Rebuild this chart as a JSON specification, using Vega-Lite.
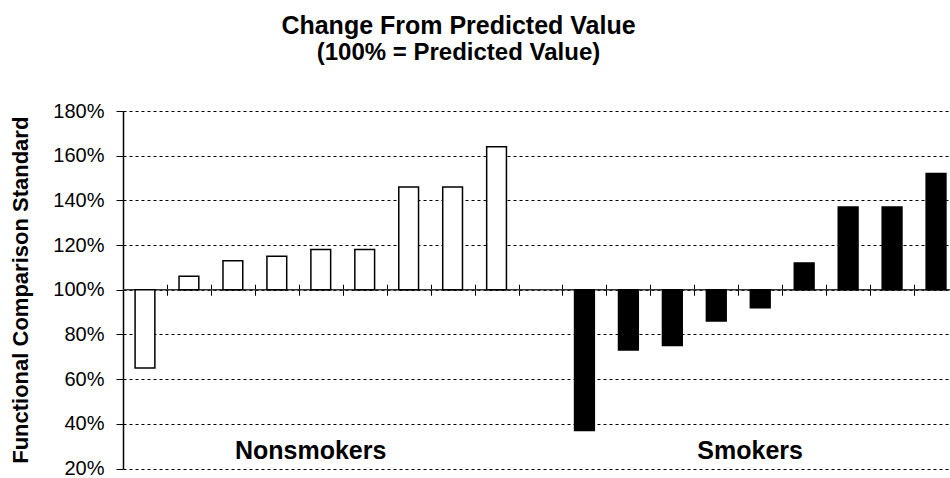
{
  "$schema": "https://vega.github.io/schema/vega-lite/v6.json",
  "width": 827,
  "height": 357.5,
  "autosize": "none",
  "padding": {"left": 123, "top": 111, "right": 0, "bottom": 9.5},
  "background": "white",
  "config": {"view": {"stroke": null}, "font": "Liberation Sans"},
  "title": {
    "text": "Change From Predicted Value",
    "subtitle": "(100% =  Predicted Value)",
    "font": "Liberation Sans",
    "subtitleFont": "Liberation Sans",
    "fontSize": 25,
    "subtitleFontSize": 24,
    "fontWeight": "bold",
    "subtitleFontWeight": "bold",
    "color": "black",
    "subtitleColor": "black",
    "anchor": "middle",
    "dx": -78,
    "offset": 36,
    "subtitlePadding": 2
  },
  "data": {
    "values": [
      {"cat": "N1", "group": "Nonsmokers", "value": 65},
      {"cat": "N2", "group": "Nonsmokers", "value": 106},
      {"cat": "N3", "group": "Nonsmokers", "value": 113},
      {"cat": "N4", "group": "Nonsmokers", "value": 115},
      {"cat": "N5", "group": "Nonsmokers", "value": 118},
      {"cat": "N6", "group": "Nonsmokers", "value": 118},
      {"cat": "N7", "group": "Nonsmokers", "value": 146},
      {"cat": "N8", "group": "Nonsmokers", "value": 146},
      {"cat": "N9", "group": "Nonsmokers", "value": 164},
      {"cat": "S1", "group": "Smokers", "value": 37},
      {"cat": "S2", "group": "Smokers", "value": 73},
      {"cat": "S3", "group": "Smokers", "value": 75},
      {"cat": "S4", "group": "Smokers", "value": 86},
      {"cat": "S5", "group": "Smokers", "value": 92},
      {"cat": "S6", "group": "Smokers", "value": 112},
      {"cat": "S7", "group": "Smokers", "value": 137},
      {"cat": "S8", "group": "Smokers", "value": 137},
      {"cat": "S9", "group": "Smokers", "value": 152}
    ]
  },
  "layer": [
    {
      "data": {"values": [{}]},
      "mark": {"type": "rule", "color": "#333333", "strokeWidth": 1.5},
      "encoding": {"y": {"datum": 100, "type": "quantitative"}}
    },
    {
      "mark": {"type": "bar", "width": {"band": 0.45}, "stroke": "black", "strokeWidth": 1.5},
      "encoding": {
        "x": {
          "field": "cat",
          "type": "nominal",
          "sort": null,
          "scale": {
            "domain": ["N1","N2","N3","N4","N5","N6","N7","N8","N9","gap","S1","S2","S3","S4","S5","S6","S7","S8","S9"],
            "range": [0, 835],
            "paddingInner": 0,
            "paddingOuter": 0
          },
          "axis": {
            "orient": "bottom",
            "offset": -184.25,
            "domain": false,
            "labels": false,
            "ticks": true,
            "tickSize": 11,
            "tickBand": "extent",
            "tickColor": "black",
            "tickWidth": 1,
            "grid": false,
            "title": null
          }
        },
        "y": {
          "field": "value",
          "type": "quantitative",
          "scale": {"domain": [20, 180], "nice": false, "zero": false},
          "axis": {
            "values": [20, 40, 60, 80, 100, 120, 140, 160, 180],
            "labelExpr": "datum.value + '%'",
            "grid": true,
            "gridDash": [3, 3],
            "gridColor": "black",
            "gridWidth": 1,
            "gridOpacity": 1,
            "domainColor": "black",
            "domainWidth": 1.5,
            "tickColor": "black",
            "tickSize": 7,
            "tickWidth": 1,
            "labelFont": "Liberation Sans",
            "labelFontSize": 20,
            "labelColor": "black",
            "labelPadding": 12,
            "title": "Functional Comparison Standard",
            "titleFont": "Liberation Sans",
            "titleFontSize": 22,
            "titleFontWeight": "bold",
            "titleColor": "black",
            "titleAngle": 270,
            "titleX": -96,
            "titleY": 178.75,
            "titleAlign": "center",
            "titleBaseline": "alphabetic"
          }
        },
        "y2": {"datum": 100},
        "fill": {
          "field": "group",
          "type": "nominal",
          "scale": {"domain": ["Nonsmokers", "Smokers"], "range": ["white", "black"]},
          "legend": null
        }
      }
    },
    {
      "data": {"values": [{"label": "Nonsmokers", "cat": "N5"}, {"label": "Smokers", "cat": "S5"}]},
      "mark": {"type": "text", "font": "Liberation Sans", "fontSize": 25, "fontWeight": "bold", "color": "black", "baseline": "middle", "align": "center"},
      "encoding": {
        "x": {
          "field": "cat",
          "type": "nominal",
          "bandPosition": 0.27,
          "axis": {
            "orient": "bottom",
            "offset": -184.25,
            "domain": false,
            "labels": false,
            "ticks": true,
            "tickSize": 11,
            "tickBand": "extent",
            "tickColor": "black",
            "tickWidth": 1,
            "grid": false,
            "title": null
          }
        },
        "y": {"datum": 28, "type": "quantitative"},
        "text": {"field": "label"}
      }
    }
  ]
}
